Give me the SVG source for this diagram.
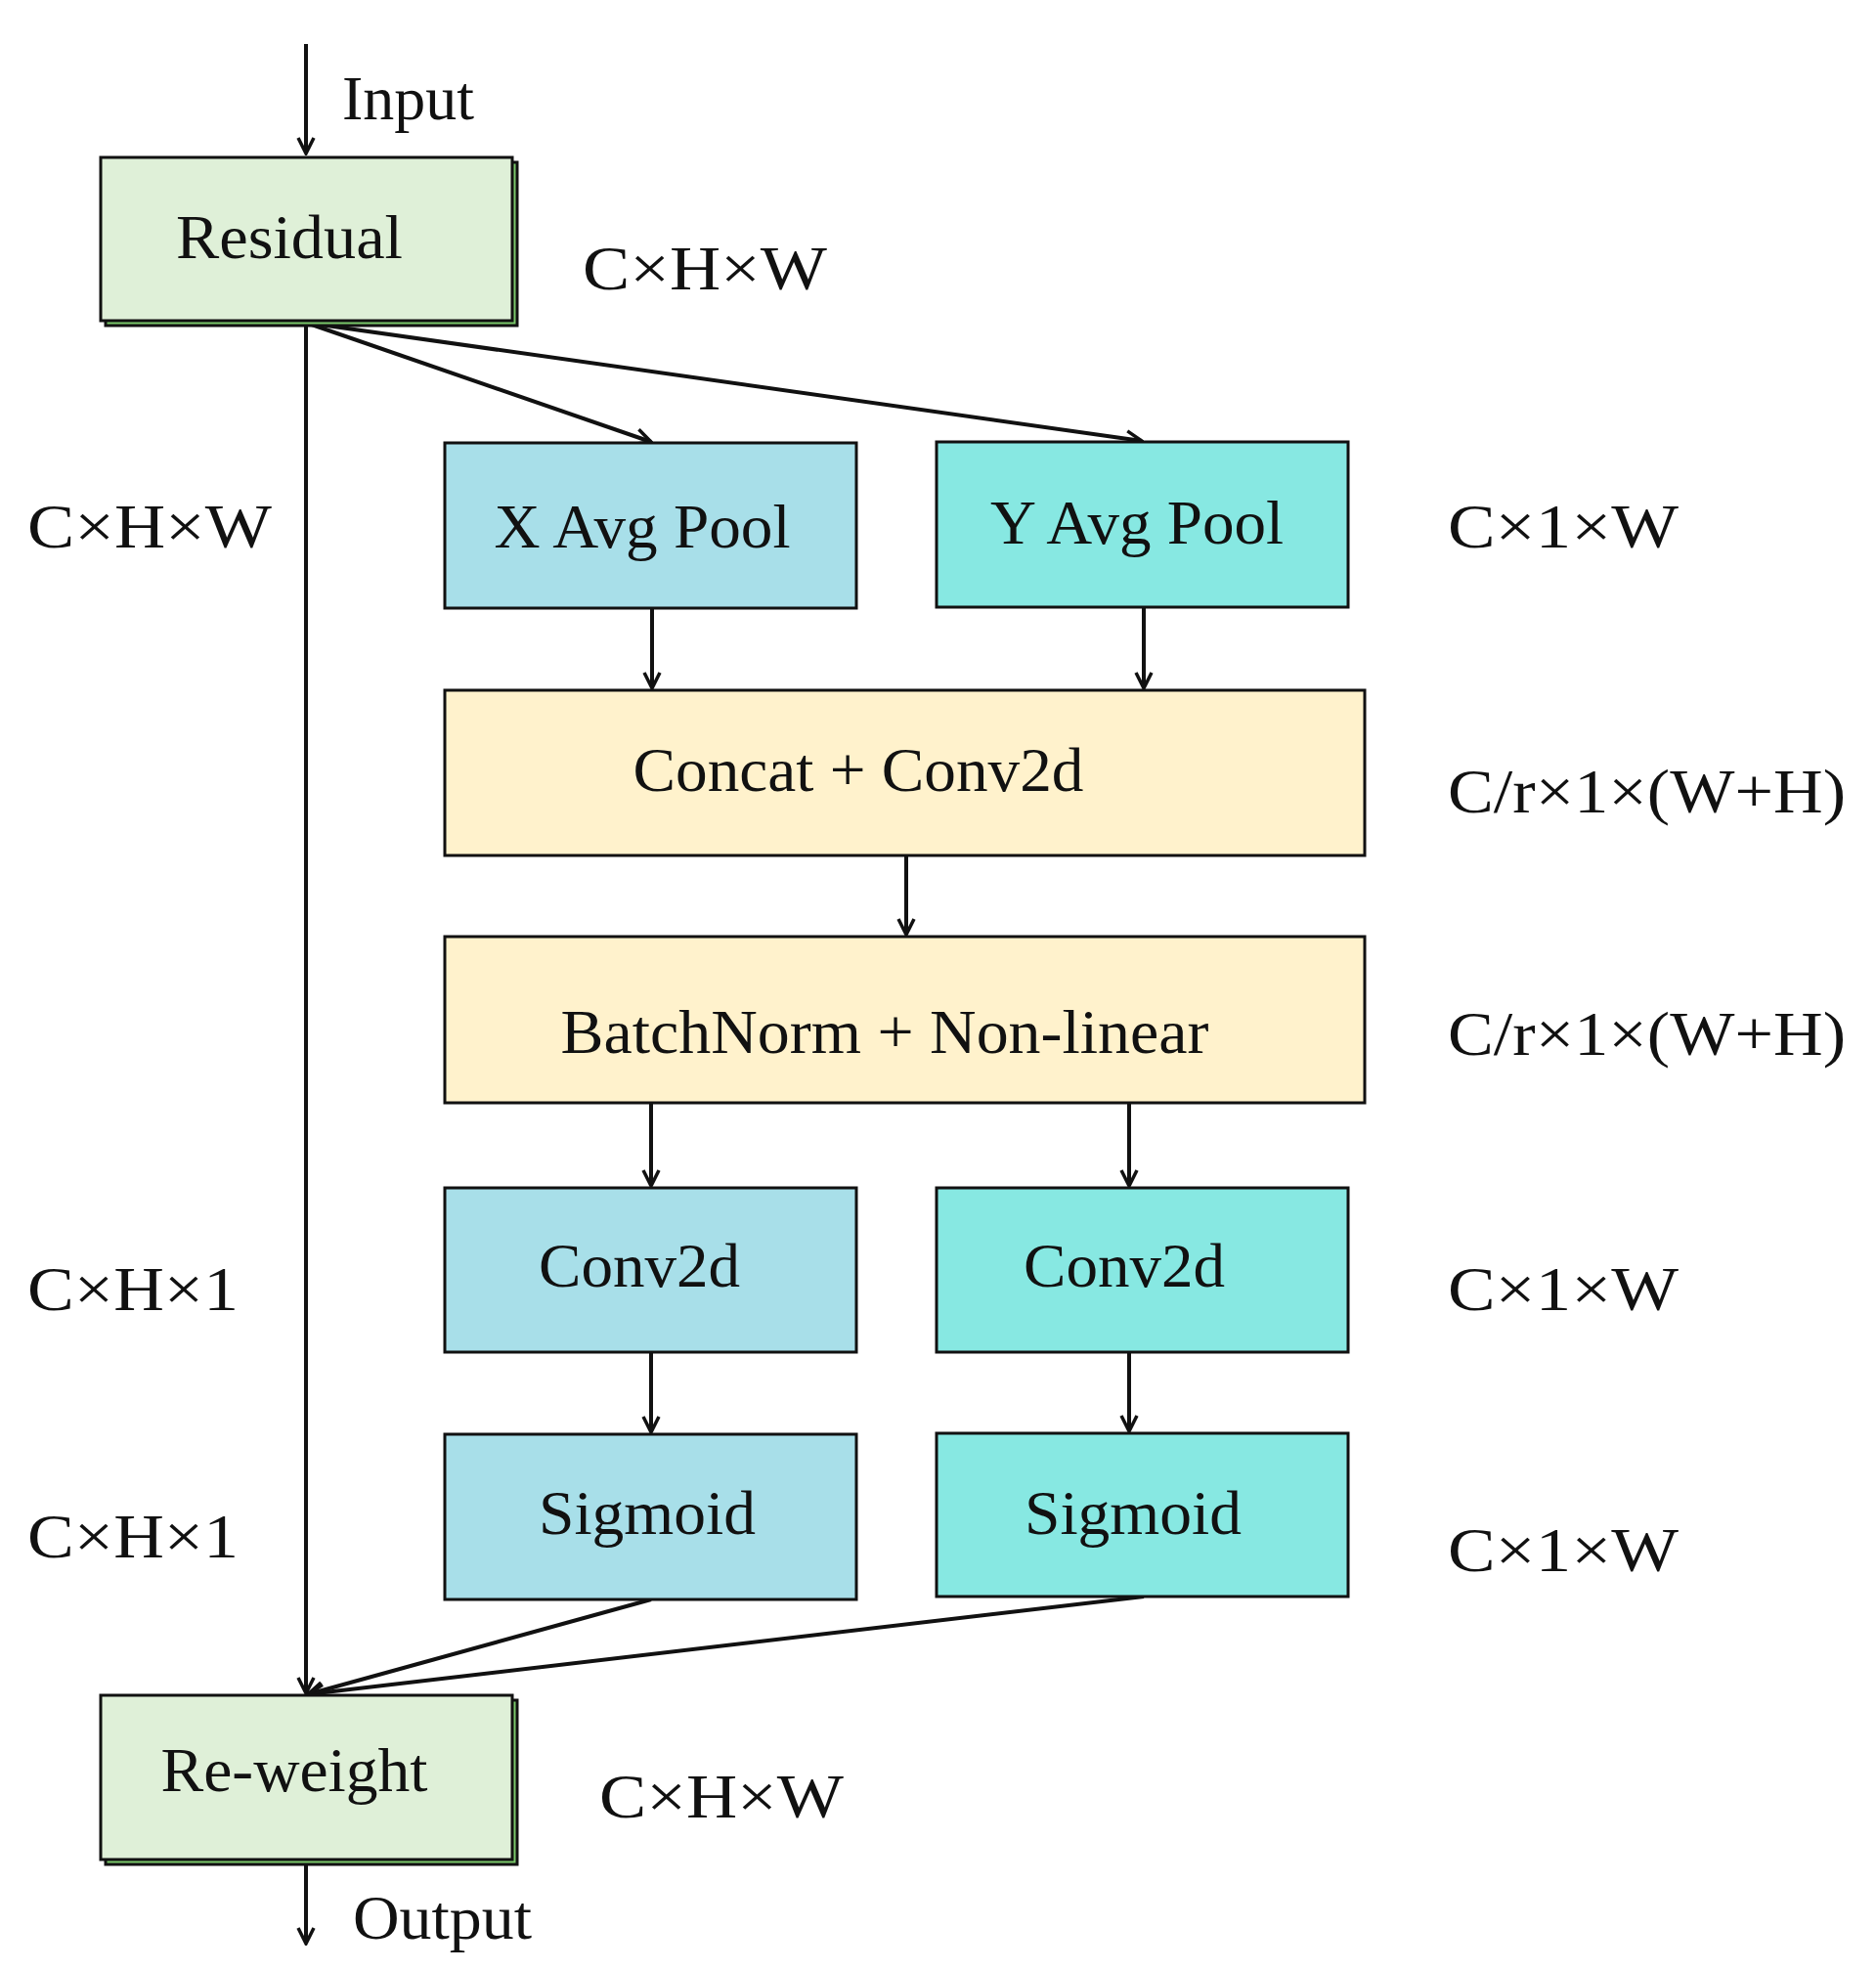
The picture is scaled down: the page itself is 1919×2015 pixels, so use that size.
<svg xmlns="http://www.w3.org/2000/svg" width="1919" height="2015" viewBox="0 0 1919 2015">
<style>
text{font-family:"Liberation Serif","Times New Roman",serif;font-size:64px;fill:#111}
.c{text-anchor:middle}
.b{stroke:#111;stroke-width:3}
.g{fill:#dff0d8}.x{fill:#a8dfe9}.y{fill:#87e8e2}.o{fill:#fff2cc}
.sh{fill:#7ac86a;stroke:#111;stroke-width:3}
.l{stroke:#111;stroke-width:4;fill:none}
</style>
<defs>
<marker id="a" viewBox="0 0 20 20" refX="18" refY="10" markerWidth="20" markerHeight="20" markerUnits="userSpaceOnUse" orient="auto">
<path d="M2,2 L18,10 L2,18" fill="none" stroke="#111" stroke-width="3.5"/>
</marker>
</defs>
<rect width="1919" height="2015" fill="#fff"/>
<g id="connectors">
<line class="l" x1="313" y1="45" x2="313" y2="157" marker-end="url(#a)"/>
<line class="l" x1="313" y1="330" x2="666" y2="452" marker-end="url(#a)"/>
<line class="l" x1="313" y1="330" x2="1168" y2="451" marker-end="url(#a)"/>
<line class="l" x1="313" y1="330" x2="313" y2="1732" marker-end="url(#a)"/>
<line class="l" x1="667" y1="622" x2="667" y2="704" marker-end="url(#a)"/>
<line class="l" x1="1170" y1="621" x2="1170" y2="704" marker-end="url(#a)"/>
<line class="l" x1="927" y1="875" x2="927" y2="956" marker-end="url(#a)"/>
<line class="l" x1="666" y1="1128" x2="666" y2="1213" marker-end="url(#a)"/>
<line class="l" x1="1155" y1="1128" x2="1155" y2="1213" marker-end="url(#a)"/>
<line class="l" x1="666" y1="1383" x2="666" y2="1465" marker-end="url(#a)"/>
<line class="l" x1="1155" y1="1383" x2="1155" y2="1464" marker-end="url(#a)"/>
<line class="l" x1="666" y1="1636" x2="315" y2="1733" marker-end="url(#a)"/>
<line class="l" x1="1170" y1="1633" x2="315" y2="1733" marker-end="url(#a)"/>
<line class="l" x1="313" y1="1902" x2="313" y2="1988" marker-end="url(#a)"/>
</g>
<text x="350" y="122" textLength="135" lengthAdjust="spacingAndGlyphs">Input</text>
<text x="361" y="1983" textLength="183" lengthAdjust="spacingAndGlyphs">Output</text>
<g id="residual">
<rect class="sh" x="108" y="166" width="421" height="167"/>
<rect class="b g" x="103" y="161" width="421" height="167"/>
<text class="c" x="296" y="264" textLength="232" lengthAdjust="spacingAndGlyphs">Residual</text>
</g>
<g id="xpool"><rect class="b x" x="455" y="453" width="421" height="169"/>
<text class="c" x="657" y="560" textLength="303" lengthAdjust="spacingAndGlyphs">X Avg Pool</text></g>
<g id="ypool"><rect class="b y" x="958" y="452" width="421" height="169"/>
<text class="c" x="1163" y="556" textLength="300" lengthAdjust="spacingAndGlyphs">Y Avg Pool</text></g>
<g id="concat"><rect class="b o" x="455" y="706" width="941" height="169"/>
<text class="c" x="878" y="809" textLength="461" lengthAdjust="spacingAndGlyphs">Concat + Conv2d</text></g>
<g id="bn"><rect class="b o" x="455" y="958" width="941" height="170"/>
<text class="c" x="905" y="1077" textLength="663" lengthAdjust="spacingAndGlyphs">BatchNorm + Non-linear</text></g>
<g id="convx"><rect class="b x" x="455" y="1215" width="421" height="168"/>
<text class="c" x="654" y="1316" textLength="206" lengthAdjust="spacingAndGlyphs">Conv2d</text></g>
<g id="convy"><rect class="b y" x="958" y="1215" width="421" height="168"/>
<text class="c" x="1150" y="1316" textLength="206" lengthAdjust="spacingAndGlyphs">Conv2d</text></g>
<g id="sigx"><rect class="b x" x="455" y="1467" width="421" height="169"/>
<text class="c" x="662" y="1569" textLength="222" lengthAdjust="spacingAndGlyphs">Sigmoid</text></g>
<g id="sigy"><rect class="b y" x="958" y="1466" width="421" height="167"/>
<text class="c" x="1159" y="1569" textLength="222" lengthAdjust="spacingAndGlyphs">Sigmoid</text></g>
<g id="reweight">
<rect class="sh" x="108" y="1739" width="421" height="168"/>
<rect class="b g" x="103" y="1734" width="421" height="168"/>
<text class="c" x="301" y="1832" textLength="273" lengthAdjust="spacingAndGlyphs">Re-weight</text>
</g>
<g id="labels">
<text x="596" y="296" textLength="250" lengthAdjust="spacingAndGlyphs">C×H×W</text>
<text x="28" y="560" textLength="250" lengthAdjust="spacingAndGlyphs">C×H×W</text>
<text x="1481" y="560" textLength="236" lengthAdjust="spacingAndGlyphs">C×1×W</text>
<text x="1481" y="831" textLength="407" lengthAdjust="spacingAndGlyphs">C/r×1×(W+H)</text>
<text x="1481" y="1079" textLength="407" lengthAdjust="spacingAndGlyphs">C/r×1×(W+H)</text>
<text x="28" y="1340" textLength="216" lengthAdjust="spacingAndGlyphs">C×H×1</text>
<text x="1481" y="1340" textLength="236" lengthAdjust="spacingAndGlyphs">C×1×W</text>
<text x="28" y="1593" textLength="216" lengthAdjust="spacingAndGlyphs">C×H×1</text>
<text x="1481" y="1607" textLength="236" lengthAdjust="spacingAndGlyphs">C×1×W</text>
<text x="613" y="1859" textLength="250" lengthAdjust="spacingAndGlyphs">C×H×W</text>
</g>
</svg>
